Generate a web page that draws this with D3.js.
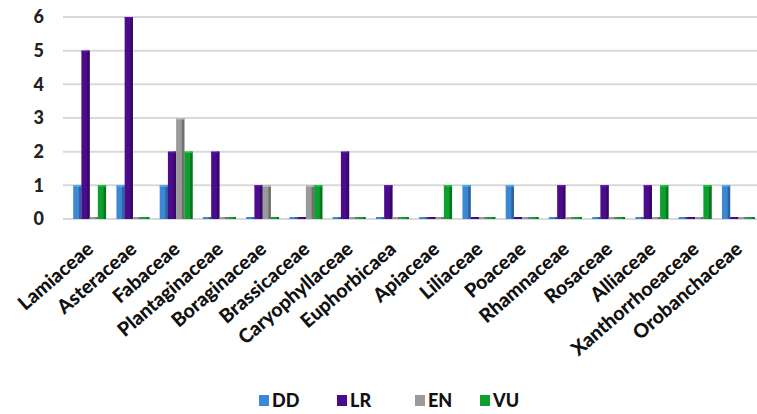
<!DOCTYPE html>
<html lang="en">
<head>
  <meta charset="UTF-8">
  <title>Families by status</title>
  <script src="https://d3js.org/d3.v7.min.js"></script>
  <style>
    body { margin: 0; background: #fff; font-family: Lato, "Open Sans", sans-serif; }
    .grid line { stroke: #d9d9d9; stroke-width: 2px; }
    .ytick { font-size: 18px; font-weight: 900; fill: #222; }
    .xtick { font-size: 19.5px; font-weight: 900; fill: #111; }
    .legend text { font-size: 18px; font-weight: 900; fill: #111; }
  </style>
</head>
<body>
  <svg width="757" height="414"></svg>

  <script>
    const families = ["Lamiaceae", "Asteraceae", "Fabaceae", "Plantaginaceae", "Boraginaceae",
      "Brassicaceae", "Caryophyllaceae", "Euphorbicaea", "Apiaceae", "Liliaceae", "Poaceae",
      "Rhamnaceae", "Rosaceae", "Alliaceae", "Xanthorrhoeaceae", "Orobanchaceae"];
    const statuses = ["DD", "LR", "EN", "VU"];
    const dd = [1, 1, 1, 0, 0, 0, 0, 0, 0, 1, 1, 0, 0, 0, 0, 1];
    const lr = [5, 6, 2, 2, 1, 0, 2, 1, 0, 0, 0, 1, 1, 1, 0, 0];
    const en = [0, 0, 3, 0, 1, 1, 0, 0, 0, 0, 0, 0, 0, 0, 0, 0];
    const vu = [1, 0, 2, 0, 0, 1, 0, 0, 1, 0, 0, 0, 0, 1, 1, 0];
    const yTicks = [0, 1, 2, 3, 4, 5, 6];

    const series = { DD: dd, LR: lr, EN: en, VU: vu };
    const colors = { DD: "#3d88d4", LR: "#4a0c8c", EN: "#9a9a9a", VU: "#0da02f" };

    const svg = d3.select("svg");
    const mLeft = 63, mRight = 757, mTop = 17, mBottom = 219;

    const x = d3.scaleBand().domain(families).range([68, 760]).paddingInner(0.24).paddingOuter(0.12);
    const xs = d3.scaleBand().domain(statuses).range([0, x.bandwidth()]);
    const y = d3.scaleLinear().domain([0, 6]).range([mBottom, mTop]);

    // gridlines
    svg.append("g").attr("class", "grid")
      .selectAll("line").data(yTicks).join("line")
      .attr("x1", mLeft).attr("x2", mRight)
      .attr("y1", d => y(d)).attr("y2", d => y(d));

    // y labels
    svg.append("g").selectAll("text").data(yTicks).join("text")
      .attr("class", "ytick")
      .attr("x", 44).attr("y", d => y(d)).attr("dy", "0.36em")
      .attr("text-anchor", "end")
      .text(d => d);

    // bars
    const groups = svg.append("g").selectAll("g").data(families).join("g")
      .attr("transform", d => `translate(${x(d)},0)`);

    groups.selectAll("g").data((f, i) => statuses.map(s => ({ s, v: series[s][i] })))
      .join("g")
      .each(function (d) {
        const g = d3.select(this);
        const bx = xs(d.s), bw = xs.bandwidth();
        const h = Math.max(mBottom - y(d.v), 2);
        const c = d3.color(colors[d.s]);
        g.append("rect")
          .attr("x", bx).attr("y", mBottom - h)
          .attr("width", bw).attr("height", h)
          .attr("fill", c);
        // darker side for the 3d look
        g.append("rect")
          .attr("x", bx + bw - 2.5).attr("y", mBottom - h)
          .attr("width", 2.5).attr("height", h)
          .attr("fill", c.darker(0.9));
        if (d.v > 0) {
          g.append("rect")
            .attr("x", bx).attr("y", mBottom - h)
            .attr("width", bw).attr("height", 1.5)
            .attr("fill", c.brighter(0.6));
        }
      });

    // x labels
    svg.append("g").selectAll("text").data(families).join("text")
      .attr("class", "xtick")
      .attr("text-anchor", "end")
      .attr("transform", d => `translate(${x(d) + x.bandwidth() / 2 + 5},${mBottom + 32}) rotate(-41)`)
      .text(d => d);

    // legend
    const legX = [259, 337, 415, 480];
    const legend = svg.append("g").attr("class", "legend")
      .selectAll("g").data(statuses).join("g")
      .attr("transform", (d, i) => `translate(${legX[i]},401)`);
    legend.append("rect")
      .attr("x", 0).attr("y", -6).attr("width", 10).attr("height", 11)
      .attr("fill", d => colors[d]);
    legend.append("text")
      .attr("x", 13).attr("y", 0).attr("dy", "0.36em")
      .text(d => d);
  </script>
</body>
</html>
